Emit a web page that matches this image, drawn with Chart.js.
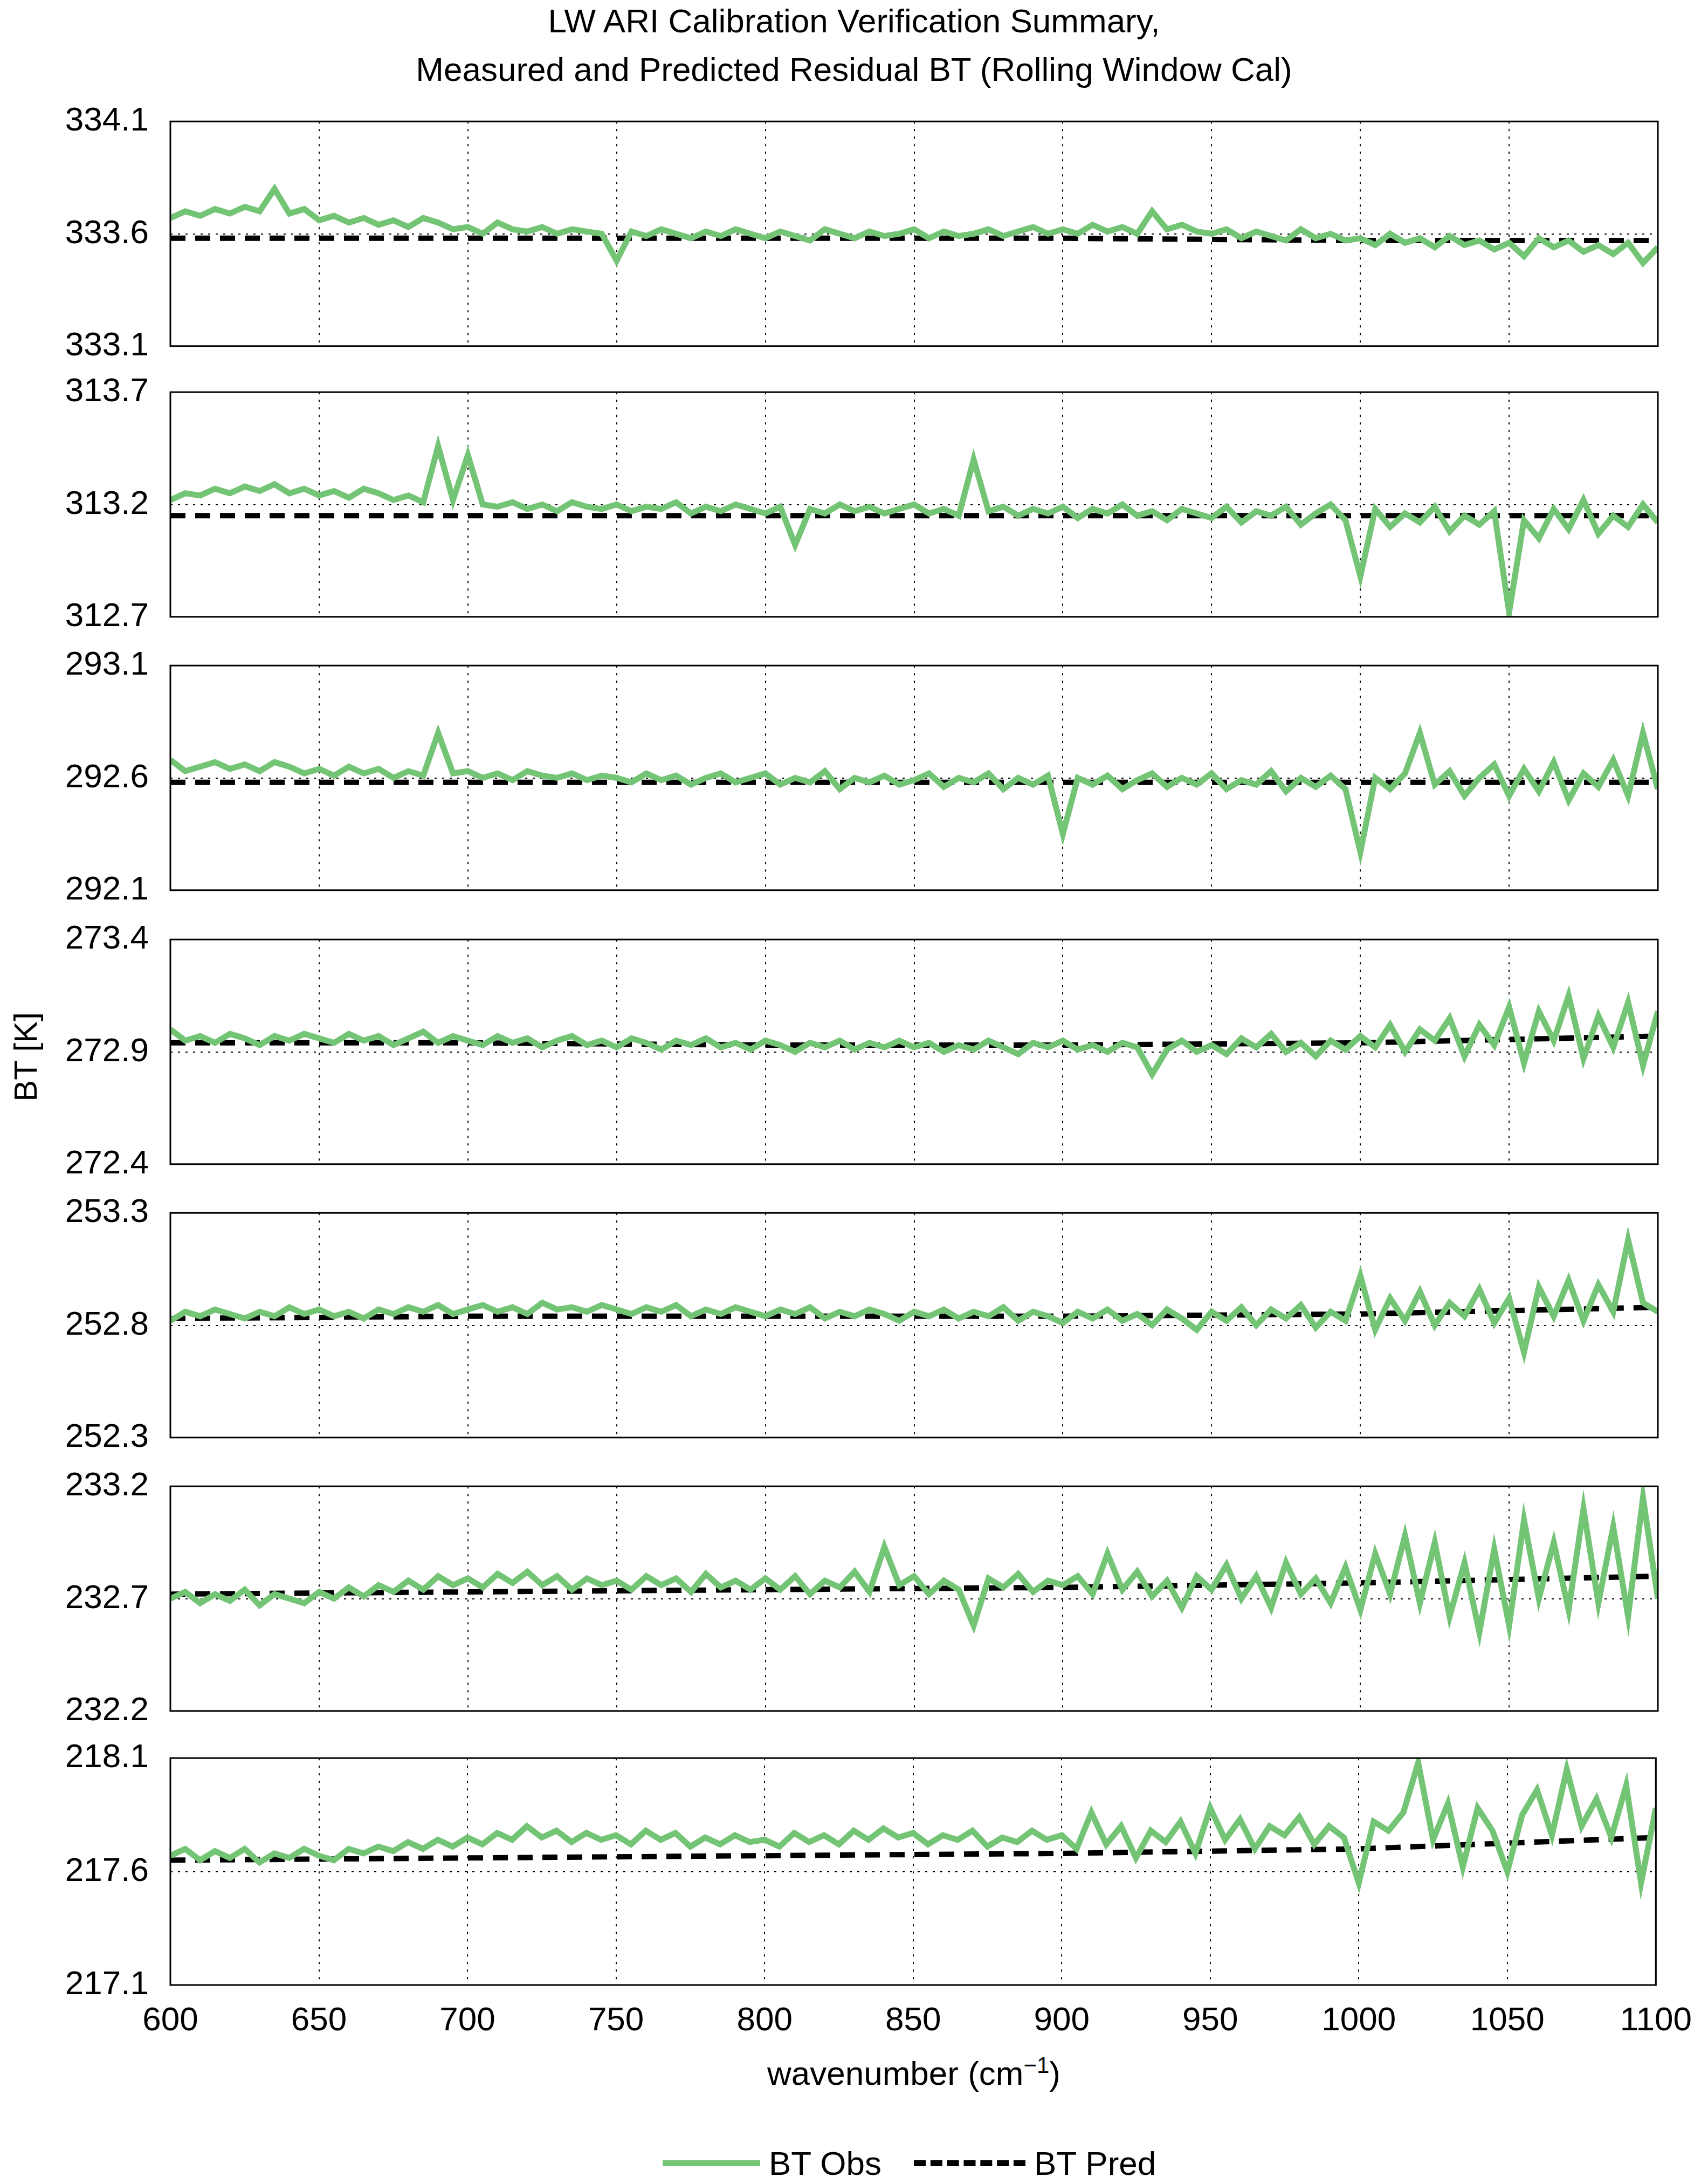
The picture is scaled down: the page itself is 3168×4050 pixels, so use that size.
<!DOCTYPE html>
<html><head><meta charset="utf-8">
<script src="https://cdn.jsdelivr.net/npm/chart.js@4.4.0/dist/chart.umd.min.js"></script>
<style>
body{margin:0;background:#fff;width:3168px;height:4050px;position:relative;font-family:"Liberation Sans",Arial,sans-serif;overflow:hidden}
.t{position:absolute;color:#000;white-space:nowrap}
.c{position:absolute;left:0;width:3168px}
</style></head><body>
<div class="t" style="left:0;width:3168px;text-align:center;top:-6px;font-size:62px;line-height:90px">LW ARI Calibration Verification Summary,<br>Measured and Predicted Residual BT (Rolling Window Cal)</div>
<div class="t" style="left:47px;top:1960px;font-size:60px;transform:translate(-50%,-50%) rotate(-90deg)">BT [K]</div>
<div class="t" style="left:1695px;top:3843px;font-size:62px;transform:translate(-50%,-50%)">wavenumber (cm<sup style="font-size:42px">−1</sup>)</div>
<div class="t" style="left:1229px;top:4006px;width:181px;height:11px;background:#74c476"></div>
<div class="t" style="left:1426px;top:4011px;font-size:62px;transform:translateY(-50%)">BT Obs</div>
<div class="t" style="left:1695px;top:4006px;width:207px;height:0;border-top:11px dashed #000"></div>
<div class="t" style="left:1918px;top:4011px;font-size:62px;transform:translateY(-50%)">BT Pred</div>
<script>
const wavenumber=[600,605,610,615,620,625,630,635,640,645,650,655,660,665,670,675,680,685,690,695,700,705,710,715,720,725,730,735,740,745,750,755,760,765,770,775,780,785,790,795,800,805,810,815,820,825,830,835,840,845,850,855,860,865,870,875,880,885,890,895,900,905,910,915,920,925,930,935,940,945,950,955,960,965,970,975,980,985,990,995,1000,1005,1010,1015,1020,1025,1030,1035,1040,1045,1050,1055,1060,1065,1070,1075,1080,1085,1090,1095,1100];
const predWavenumber=[600,700,800,900,1000,1100];
const yTickMin=[333.1,312.7,292.1,272.4,252.3,232.2,217.1];
const xTicks=[600,650,700,750,800,850,900,950,1000,1050,1100];
const obs1=[333.67,333.70,333.68,333.71,333.69,333.72,333.70,333.80,333.69,333.71,333.66,333.68,333.65,333.67,333.64,333.66,333.63,333.67,333.65,333.62,333.63,333.60,333.65,333.62,333.61,333.63,333.60,333.62,333.61,333.60,333.48,333.61,333.59,333.62,333.60,333.58,333.61,333.59,333.62,333.60,333.58,333.61,333.59,333.57,333.62,333.60,333.58,333.61,333.59,333.60,333.62,333.58,333.61,333.59,333.60,333.62,333.59,333.61,333.63,333.60,333.62,333.60,333.64,333.61,333.63,333.60,333.70,333.62,333.64,333.61,333.60,333.62,333.58,333.61,333.59,333.57,333.62,333.58,333.60,333.57,333.58,333.55,333.60,333.56,333.58,333.54,333.59,333.55,333.57,333.53,333.56,333.50,333.58,333.54,333.57,333.52,333.55,333.51,333.56,333.47,333.54];
const obs2=[313.22,313.25,313.24,313.27,313.25,313.28,313.26,313.29,313.25,313.27,313.24,313.26,313.23,313.27,313.25,313.22,313.24,313.21,313.46,313.22,313.42,313.20,313.19,313.21,313.18,313.20,313.17,313.21,313.19,313.18,313.20,313.17,313.19,313.18,313.21,313.16,313.19,313.17,313.20,313.18,313.16,313.19,313.02,313.18,313.16,313.20,313.17,313.19,313.16,313.18,313.20,313.16,313.18,313.15,313.40,313.17,313.19,313.15,313.18,313.16,313.19,313.14,313.18,313.16,313.20,313.15,313.17,313.13,313.18,313.16,313.14,313.19,313.12,313.17,313.15,313.19,313.11,313.16,313.20,313.13,312.88,313.18,313.10,313.16,313.12,313.19,313.08,313.15,313.11,313.17,312.72,313.13,313.05,313.18,313.09,313.22,313.07,313.15,313.10,313.20,313.12];
const obs3=[292.68,292.63,292.65,292.67,292.64,292.66,292.63,292.67,292.65,292.62,292.64,292.61,292.65,292.62,292.64,292.60,292.63,292.61,292.80,292.62,292.63,292.60,292.62,292.59,292.63,292.61,292.60,292.62,292.59,292.61,292.60,292.58,292.62,292.59,292.61,292.57,292.60,292.62,292.58,292.60,292.62,292.57,292.60,292.58,292.63,292.55,292.60,292.58,292.61,292.57,292.59,292.62,292.56,292.60,292.58,292.62,292.55,292.60,292.57,292.61,292.35,292.60,292.57,292.61,292.55,292.59,292.62,292.56,292.60,292.57,292.62,292.55,292.59,292.57,292.63,292.54,292.60,292.56,292.61,292.55,292.27,292.60,292.55,292.62,292.80,292.57,292.63,292.52,292.60,292.66,292.52,292.64,292.54,292.67,292.50,292.62,292.56,292.68,292.52,292.80,292.55];
const obs4=[273.00,272.95,272.97,272.94,272.98,272.96,272.93,272.97,272.95,272.98,272.96,272.94,272.98,272.95,272.97,272.93,272.96,272.99,272.94,272.97,272.95,272.93,272.97,272.94,272.96,272.92,272.95,272.97,272.93,272.95,272.92,272.96,272.94,272.91,272.95,272.93,272.96,272.92,272.94,272.91,272.95,272.93,272.90,272.94,272.92,272.95,272.91,272.94,272.92,272.95,272.92,272.94,272.90,272.93,272.91,272.95,272.92,272.89,272.94,272.92,272.95,272.91,272.93,272.90,272.94,272.92,272.80,272.91,272.95,272.90,272.93,272.89,272.96,272.92,272.98,272.90,272.94,272.88,272.95,272.91,272.97,272.92,273.02,272.90,273.00,272.95,273.05,272.88,273.02,272.93,273.10,272.85,273.08,272.95,273.15,272.87,273.06,272.92,273.12,272.84,273.08];
const obs5=[252.82,252.86,252.84,252.87,252.85,252.83,252.86,252.84,252.88,252.85,252.87,252.84,252.86,252.83,252.87,252.85,252.88,252.86,252.89,252.85,252.87,252.89,252.86,252.88,252.85,252.90,252.87,252.88,252.86,252.89,252.87,252.85,252.88,252.86,252.89,252.84,252.87,252.85,252.88,252.86,252.84,252.87,252.85,252.88,252.83,252.86,252.84,252.87,252.85,252.82,252.86,252.84,252.87,252.83,252.86,252.84,252.88,252.82,252.86,252.84,252.81,252.86,252.83,252.87,252.82,252.85,252.80,252.87,252.83,252.78,252.86,252.82,252.88,252.80,252.87,252.83,252.89,252.79,252.86,252.82,253.02,252.78,252.92,252.82,252.95,252.80,252.90,252.84,252.96,252.81,252.92,252.68,252.97,252.84,253.00,252.82,252.98,252.86,253.18,252.90,252.86];
const obs6=[232.70,232.73,232.68,232.72,232.69,232.74,232.67,232.72,232.70,232.68,232.73,232.70,232.75,232.71,232.76,232.73,232.78,232.74,232.80,232.76,232.79,232.75,232.81,232.77,232.82,232.76,232.80,232.74,232.79,232.76,232.78,232.74,232.80,232.76,232.79,232.73,232.81,232.75,232.78,232.74,232.79,232.74,232.80,232.72,232.78,232.75,232.82,232.73,232.93,232.76,232.80,232.72,232.78,232.74,232.58,232.79,232.75,232.81,232.73,232.78,232.76,232.80,232.72,232.90,232.74,232.82,232.71,232.78,232.66,232.80,232.74,232.85,232.70,232.80,232.66,232.86,232.72,232.79,232.68,232.84,232.65,232.90,232.72,232.98,232.68,232.95,232.62,232.86,232.55,232.92,232.58,233.05,232.70,232.95,232.65,233.10,232.68,233.02,232.62,233.15,232.70];
const obs7=[217.67,217.70,217.65,217.69,217.66,217.70,217.64,217.68,217.66,217.70,217.67,217.65,217.70,217.68,217.71,217.69,217.73,217.70,217.74,217.71,217.75,217.72,217.77,217.74,217.80,217.75,217.78,217.73,217.77,217.74,217.76,217.72,217.78,217.74,217.77,217.71,217.75,217.72,217.76,217.73,217.74,217.71,217.77,217.73,217.76,217.72,217.78,217.74,217.79,217.75,217.77,217.72,217.76,217.74,217.78,217.71,217.75,217.73,217.78,217.74,217.76,217.70,217.86,217.72,217.80,217.66,217.78,217.73,217.82,217.68,217.88,217.74,217.83,217.70,217.80,217.76,217.84,217.72,217.80,217.75,217.55,217.82,217.78,217.86,218.08,217.74,217.90,217.62,217.88,217.78,217.60,217.85,217.96,217.76,218.05,217.80,217.92,217.75,217.98,217.55,217.88];
const pred1=[333.58,333.58,333.58,333.58,333.57,333.57];
const pred2=[313.15,313.15,313.15,313.15,313.15,313.15];
const pred3=[292.58,292.58,292.58,292.58,292.58,292.58];
const pred4=[272.94,272.94,272.93,272.93,272.94,272.97];
const pred5=[252.83,252.84,252.84,252.84,252.85,252.88];
const pred6=[232.72,232.73,232.74,232.75,232.77,232.80];
const pred7=[217.65,217.66,217.67,217.68,217.70,217.75];
const obsAll=[obs1,obs2,obs3,obs4,obs5,obs6,obs7];
const predAll=[pred1,pred2,pred3,pred4,pred5,pred6,pred7];

const panelTops=[225,727,1234,1742,2249,2756,3264];
const PH=417, LEFT=316, RIGHT=3075, PAD=50, LP=19, EXTRA=27;
const frame={id:'frame',afterDatasetsDraw(ch){const a=ch.chartArea,c=ch.ctx;c.save();c.strokeStyle='#000';c.lineWidth=3;c.strokeRect(a.left,a.top,a.right-a.left,a.bottom-a.top);c.restore();}};
for(let i=0;i<7;i++){
  const last=i===6;
  const d=document.createElement('div');d.className='c';
  const top=panelTops[i]-PAD-(last?31:EXTRA);
  const h=last?(PH+PAD*2+100+31):(PH+PAD*2+EXTRA*2);
  d.style.top=top+'px';d.style.height=h+'px';
  const cv=document.createElement('canvas');d.appendChild(cv);document.body.appendChild(d);
  const mn=yTickMin[i];
  new Chart(cv,{type:'line',
    data:{datasets:[
      {data:wavenumber.map((x,k)=>({x,y:obsAll[i][k]})),borderColor:'#74c476',borderWidth:11,pointRadius:0,tension:0},
      {data:predWavenumber.map((x,k)=>({x,y:predAll[i][k]})),borderColor:'#000',borderWidth:10,borderDash:[28,18],pointRadius:0,tension:0}
    ]},
    options:{responsive:true,maintainAspectRatio:false,animation:false,devicePixelRatio:1,
      layout:{padding:{top:LP,bottom:last?0:LP,left:0,right:3168-RIGHT}},
      plugins:{legend:{display:false},tooltip:{enabled:false}},
      scales:{
        x:{type:'linear',min:600,max:1100,
          afterBuildTicks(s){s.ticks=xTicks.map(v=>({value:v}));},
          afterFit(s){s.height=last?150:0;},
          grid:{color:'#000',lineWidth:2,drawTicks:false},border:{display:false,dash:[4,10]},
          ticks:{display:last,color:'#000',font:{size:62,family:'Liberation Sans'},padding:30,maxRotation:0,callback:v=>String(v)}},
        y:{min:mn,max:+(mn+1).toFixed(1),
          afterBuildTicks(s){s.ticks=[mn,mn+0.5,mn+1].map(v=>({value:v}));},
          afterFit(s){s.width=LEFT;},
          grid:{color:'#000',lineWidth:2,drawTicks:false},border:{display:false,dash:[4,10]},
          ticks:{color:'#000',font:{size:62,family:'Liberation Sans'},padding:40,callback:v=>v.toFixed(1)}}
      }},
    plugins:[frame]});
}
</script></body></html>
